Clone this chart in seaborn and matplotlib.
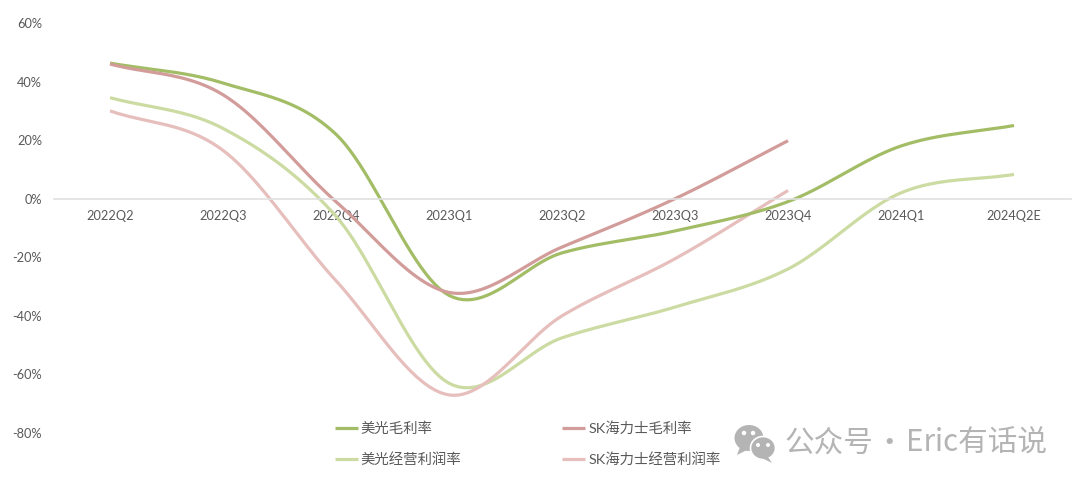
import numpy as np
import pandas as pd
import matplotlib
matplotlib.use("Agg")
import matplotlib.pyplot as plt
from matplotlib.patches import Ellipse, Polygon
import seaborn as sns

quarters = ["2022Q2", "2022Q3", "2022Q4", "2023Q1", "2023Q2", "2023Q3", "2023Q4", "2024Q1", "2024Q2E"]
micron_gross = [46.3, 39.5, 22.0, -33.0, -18.5, -11.0, -1.0, 18.0, 25.0]
hynix_gross = [46.0, 35.5, -1.0, -32.0, -16.5, 0.0, 19.8]
micron_op = [34.5, 24.0, -6.0, -63.0, -47.5, -37.0, -24.0, 2.0, 8.3]
hynix_op = [30.0, 16.5, -28.0, -67.0, -40.0, -20.5, 2.8]

names = ["美光毛利率", "SK海力士毛利率", "美光经营利润率", "SK海力士经营利润率"]
colors = ["#A3BD66", "#D29C9A", "#CCDBA2", "#E6BFBD"]
y_ticks = [60, 40, 20, 0, -20, -40, -60, -80]


def smooth(values, steps=24):
    """Catmull-Rom curve through the quarterly values, as spreadsheet smoothed lines draw it."""
    v = np.asarray(values, dtype=float)
    p = np.concatenate(([2 * v[0] - v[1]], v, [2 * v[-1] - v[-2]]))
    xs, ys = [], []
    for i in range(len(v) - 1):
        t = np.linspace(0, 1, steps, endpoint=False)
        p0, p1, p2, p3 = p[i], p[i + 1], p[i + 2], p[i + 3]
        ys.append(0.5 * (2 * p1 + (p2 - p0) * t + (2 * p0 - 5 * p1 + 4 * p2 - p3) * t**2
                         + (3 * p1 - p0 - 3 * p2 + p3) * t**3))
        xs.append(i + t)
    xs.append([len(v) - 1.0])
    ys.append([v[-1]])
    return np.concatenate(xs), np.concatenate(ys)


frames = []
for name, series in zip(names, [micron_gross, hynix_gross, micron_op, hynix_op]):
    x, y = smooth(series)
    frames.append(pd.DataFrame({"quarter": x, "margin": y, "series": name}))
table = pd.concat(frames, ignore_index=True)

sns.set_theme(style="white")
plt.rcParams["font.family"] = ["Lato", "Noto Sans CJK SC", "DejaVu Sans"]

W, H = 1080, 487
fig = plt.figure(figsize=(W / 100, H / 100), dpi=100, facecolor="white")
ax = fig.add_axes([53.5 / W, 1 - 433 / H, 1017 / W, 410 / H])

draw_order = [names[2], names[3], names[0], names[1]]
sns.lineplot(data=table, x="quarter", y="margin", hue="series", hue_order=draw_order,
             palette=dict(zip(names, colors)), linewidth=2.3, ax=ax, sort=False,
             errorbar=None, estimator=None, solid_capstyle="butt")

ax.set_xlim(-0.5, len(quarters) - 0.5)
ax.set_ylim(-80, 60)
ax.set_xticks(range(len(quarters)), quarters)
ax.set_yticks(y_ticks, [f"{t}%" for t in y_ticks])
ax.set_xlabel("")
ax.set_ylabel("")
ax.grid(False)
for side in ["top", "left", "right"]:
    ax.spines[side].set_visible(False)
ax.spines["bottom"].set_position(("data", 0))
ax.spines["bottom"].set_color("#E0E0E0")
ax.spines["bottom"].set_linewidth(1.2)
ax.tick_params(axis="x", length=0, pad=8, labelsize=9.2, labelcolor="#595959")
ax.tick_params(axis="y", length=0, pad=8.3, labelsize=9.2, labelcolor="#595959")
for line in ax.get_lines():
    line.set_clip_on(False)

handles, labels = ax.get_legend_handles_labels()
by_label = dict(zip(labels, handles))
ax.legend([by_label[names[0]], by_label[names[2]], by_label[names[1]], by_label[names[3]]],
          [names[0], names[2], names[1], names[3]],
          ncol=2, frameon=False, fontsize=10.4, labelcolor="#595959",
          loc="center left", bbox_to_anchor=(268 / 1017, -10.5 / 410),
          handlelength=1.6, handletextpad=0.2, columnspacing=7.0, labelspacing=1.2)

# Account watermark in the lower right corner, laid out in pixel coordinates
overlay = fig.add_axes([0, 0, 1, 1], facecolor="none")
overlay.set_xlim(0, W)
overlay.set_ylim(H, 0)
overlay.axis("off")
mark = "#B4B4B4"
overlay.add_patch(Ellipse((749, 438), 29, 26, color=mark, lw=0))
overlay.add_patch(Polygon([[740, 447], [737, 455], [747, 450]], color=mark, lw=0))
overlay.add_patch(Ellipse((763, 448), 25, 23, facecolor=mark, edgecolor="white", lw=1.2))
overlay.add_patch(Polygon([[768, 457], [772, 463], [762, 458]], color=mark, lw=0))
for ex, ey in [(744, 433), (753, 433)]:
    overlay.add_patch(Ellipse((ex, ey), 4.5, 4.5, color="white", lw=0))
for ex, ey in [(758, 445), (768, 445)]:
    overlay.add_patch(Ellipse((ex, ey), 4, 4, color="white", lw=0))
cjk = ["Noto Sans CJK SC", "DejaVu Sans"]
overlay.text(784, 443, "公众号", fontsize=21.3, color=mark, va="center", ha="left", family=cjk)
overlay.text(889, 443, "·", fontsize=21.3, color=mark, va="center", ha="center", family=cjk)
overlay.text(906, 443, "Eric有话说", fontsize=21.3, color=mark, va="center", ha="left", family=cjk)

fig.savefig("out.png", dpi=100, facecolor="white")
